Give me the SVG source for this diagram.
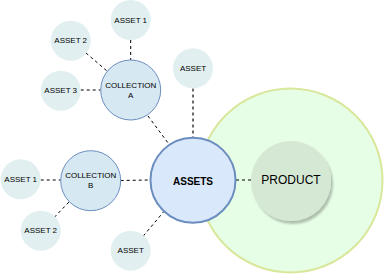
<svg xmlns="http://www.w3.org/2000/svg" width="384" height="275" viewBox="0 0 384 275">
<defs>
<style>
text{font-family:"Liberation Sans",Arial,Helvetica,sans-serif;fill:#000;text-anchor:middle;dominant-baseline:central}
.asset{fill:#e1eff0;stroke:none}
.asset-t{font-size:8px}
.coll{fill:#d6e8f2;stroke:#6c8ebf;stroke-width:1}
.conn{stroke:#000;stroke-width:1;stroke-dasharray:3 3;fill:none}
.conn2{stroke:#6b6b6b;stroke-width:2;stroke-dasharray:3 3;fill:none}
</style>
<filter id="sh" x="-20%" y="-20%" width="150%" height="150%">
<feGaussianBlur in="SourceAlpha" stdDeviation="1"/>
<feOffset dx="2" dy="3" result="b"/>
<feComponentTransfer><feFuncA type="linear" slope="0.25"/></feComponentTransfer>
<feMerge><feMergeNode/><feMergeNode in="SourceGraphic"/></feMerge>
</filter>
</defs>
<g id="product-area">
<circle cx="290.5" cy="180.5" r="92" fill="#e6fde6" stroke="#d9e79b" stroke-width="2"/>
</g>
<g id="connectors">
<line class="conn" x1="130.7" y1="40" x2="130.7" y2="60"/>
<line class="conn" x1="86" y1="53" x2="107" y2="71"/>
<line class="conn" x1="80.7" y1="90" x2="100.7" y2="90"/>
<line class="conn" x1="148" y1="116" x2="168.3" y2="143.3"/>
<line class="conn2" x1="193" y1="88.5" x2="193" y2="137.5"/>
<line class="conn" x1="120.7" y1="180.5" x2="150" y2="180"/>
<line class="conn" x1="40.7" y1="180" x2="60.7" y2="180"/>
<line class="conn" x1="54.3" y1="217.3" x2="69.3" y2="201.7"/>
<line class="conn" x1="143.3" y1="236" x2="164.3" y2="211"/>
<line class="conn" x1="236" y1="180" x2="251" y2="180"/>
</g>
<g id="asset-1">
<circle class="asset" cx="130.7" cy="20" r="20"/>
<text class="asset-t" x="130.7" y="20">ASSET 1</text>
</g>
<g id="asset-2">
<circle class="asset" cx="70.7" cy="40.7" r="20"/>
<text class="asset-t" x="70.7" y="40.7">ASSET 2</text>
</g>
<g id="asset-3">
<circle class="asset" cx="60.7" cy="90.7" r="20"/>
<text class="asset-t" x="60.7" y="90.7">ASSET 3</text>
</g>
<g id="asset-top">
<circle class="asset" cx="193" cy="68.3" r="20"/>
<text class="asset-t" x="193" y="68.3">ASSET</text>
</g>
<g id="asset-b1">
<circle class="asset" cx="20.7" cy="179.3" r="20"/>
<text class="asset-t" x="20.7" y="179.3">ASSET 1</text>
</g>
<g id="asset-b2">
<circle class="asset" cx="40.7" cy="230.7" r="20"/>
<text class="asset-t" x="40.7" y="230.7">ASSET 2</text>
</g>
<g id="asset-bottom">
<circle class="asset" cx="130.7" cy="250.7" r="20"/>
<text class="asset-t" x="130.7" y="250.7">ASSET</text>
</g>
<g id="collection-a">
<circle class="coll" cx="130.7" cy="90" r="30"/>
<text class="asset-t" x="130.7" y="85">COLLECTION</text>
<text class="asset-t" x="130.7" y="95">A</text>
</g>
<g id="collection-b">
<circle class="coll" cx="90.7" cy="180.7" r="30"/>
<text class="asset-t" x="90.7" y="175.7">COLLECTION</text>
<text class="asset-t" x="90.7" y="185.7">B</text>
</g>
<g id="assets">
<circle cx="193" cy="180.2" r="42.5" fill="#dae8fc" stroke="#6c8ebf" stroke-width="2"/>
<text x="193" y="181" font-size="10" font-weight="bold">ASSETS</text>
</g>
<g id="product">
<circle cx="291" cy="181" r="40" fill="#d5e8d4" filter="url(#sh)"/>
<text x="291" y="180" font-size="12">PRODUCT</text>
</g>
</svg>
